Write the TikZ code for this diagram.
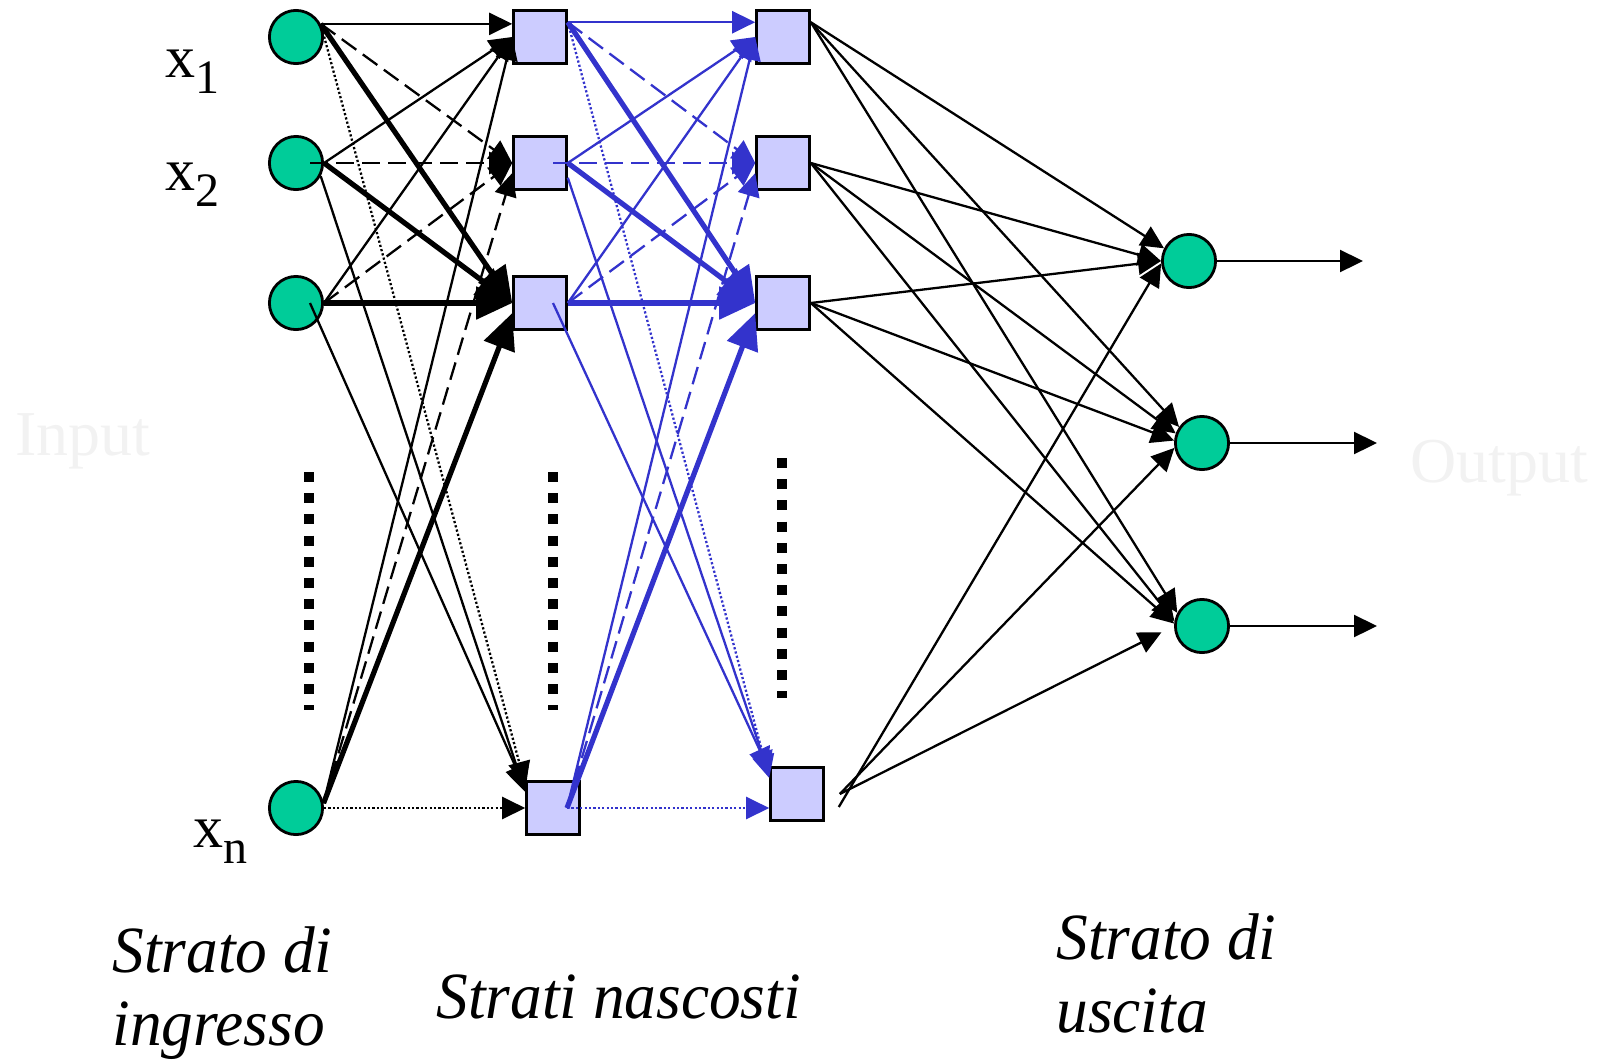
\documentclass[tikz,border=0pt]{standalone}
\usepackage{fontspec}
\setmainfont{Liberation Serif}
\newfontfamily\lblfont[FakeStretch=0.96]{Liberation Serif}
\usetikzlibrary{arrows.meta}
\definecolor{neuron}{RGB}{0,204,153}
\definecolor{unit}{RGB}{204,204,255}
\definecolor{wire}{RGB}{51,51,204}
\definecolor{ghost}{RGB}{242,242,242}
\begin{document}
\begin{tikzpicture}[x=0.5pt,y=-0.5pt]
        \tikzstyle{every node}+=[inner sep=0pt]
        \tikzstyle{neu}=[circle,draw=black,fill=neuron,line width=1.4pt,minimum size=26.6pt]
        \tikzstyle{hid}=[rectangle,draw=black,fill=unit,line width=1.4pt,minimum size=26.4pt]
        \tikzstyle{lnk}=[line width=1.15pt,-{Triangle[length=11.5pt,width=11pt]}]
        \tikzstyle{lnkdash}=[lnk,dash pattern=on 9pt off 4pt]
        \tikzstyle{lnkdot}=[lnk,dash pattern=on 1.1pt off 1.1pt]
        \tikzstyle{lnkbold}=[line width=2.6pt,-{Triangle[length=18pt,width=16pt]}]
        \tikzstyle{dots}=[line width=5.3pt,dash pattern=on 5pt off 5.6pt]
        \tikzstyle{lbl}=[font=\lblfont\fontsize{33}{36.5}\selectfont\itshape,align=left,anchor=base west]
        \tikzstyle{sym}=[font=\fontsize{30}{30}\selectfont,anchor=base west]
        \useasboundingbox (0,0) rectangle (1597,1061);
        \node [ghost,font=\fontsize{32}{32}\selectfont,anchor=base west] (tin) at (15,455) {Input};
        \node [ghost,font=\fontsize{32}{32}\selectfont,anchor=base west] (tout) at (1410,482) {Output};
        \node [neu] (x1) at (296,37) {};
        \node [neu] (x2) at (296,163) {};
        \node [neu] (x3) at (296,303) {};
        \node [neu] (xn) at (296,808) {};
        \node [hid] (h1) at (540,37) {};
        \node [hid] (h2) at (540,163) {};
        \node [hid] (h3) at (540,303) {};
        \node [hid] (hn) at (553,808) {};
        \node [hid] (g1) at (783,37) {};
        \node [hid] (g2) at (783,163) {};
        \node [hid] (g3) at (783,303) {};
        \node [hid] (gn) at (797,794) {};
        \node [neu] (o1) at (1189,261) {};
        \node [neu] (o2) at (1202,443) {};
        \node [neu] (o3) at (1202,626) {};
        \coordinate (gs1) at ([xshift=7pt,yshift=-6.5pt]gn.east);
        \coordinate (gs2) at ([xshift=7.5pt]gn.east);
        \coordinate (e1) at (1363,261);
        \coordinate (e2) at (1377,443);
        \coordinate (e3) at (1377,626);
        \node [sym] (lx1) at (165,77) {x\raisebox{-8pt}{\fontsize{24}{24}\selectfont 1}};
        \node [sym] (lx2) at (165,190) {x\raisebox{-8pt}{\fontsize{24}{24}\selectfont 2}};
        \node [sym] (lxn) at (193,847) {x\raisebox{-8pt}{\fontsize{24}{24}\selectfont n}};
        \draw [dots] (309,472) -- (309,710);
        \draw [dots] (553,472) -- (553,710);
        \draw [dots] (782,458) -- (782,698);
        \draw [lnk] (x1.28) -- (h1.west |- x1.28);
        \draw [lnkdash] (x1.28) -- (h2.west);
        \draw [lnkbold] (x1.28) -- (h3.west);
        \draw [lnkdot] (x1.28) -- (hn.140);
        \draw [lnk] (x2.east) -- (h1.west);
        \draw [lnkdash] ([xshift=7pt]x2.center) -- (h2.west);
        \draw [lnkbold] (x2.east) -- (h3.west);
        \draw [lnk] (x2.-28) -- (hn.150);
        \draw [lnk] (x3.east) -- (h1.west);
        \draw [lnkdash] (x3.east) -- (h2.west);
        \draw [lnkbold] (x3.east) -- (h3.west);
        \draw [lnk] ([xshift=7pt]x3.center) -- (hn.145);
        \draw [lnk] (xn.10) -- (h1.west);
        \draw [lnkdash] (xn.10) -- (h2.200);
        \draw [lnkbold] (xn.10) -- (h3.200);
        \draw [lnkdot] (xn.east) -- (hn.west);
        \draw [lnk,wire] (h1.28) -- (g1.west |- h1.28);
        \draw [lnkdash,wire] (h1.28) -- (g2.west);
        \draw [lnkbold,wire] (h1.28) -- (g3.west);
        \draw [lnkdot,wire] (h1.28) -- (gn.150);
        \draw [lnk,wire] (h2.east) -- (g1.west);
        \draw [lnkdash,wire] ([xshift=6.5pt]h2.center) -- (g2.west);
        \draw [lnkbold,wire] (h2.east) -- (g3.west);
        \draw [lnk,wire] (h2.-28) -- (gn.145);
        \draw [lnk,wire] (h3.east) -- (g1.west);
        \draw [lnkdash,wire] (h3.east) -- (g2.west);
        \draw [lnkbold,wire] (h3.east) -- (g3.west);
        \draw [lnk,wire] ([xshift=6.5pt]h3.center) -- (gn.140);
        \draw [lnk,wire] ([xshift=7pt]hn.center) -- (g1.west);
        \draw [lnkdash,wire] ([xshift=7pt]hn.center) -- (g2.200);
        \draw [lnkbold,wire] ([xshift=7pt]hn.center) -- (g3.200);
        \draw [lnkdot,wire] ([xshift=7pt]hn.center) -- (gn.west |- hn);
        \draw [lnk] (g1.28) -- (o1.153);
        \draw [lnk] (g1.28) -- (o2.145);
        \draw [lnk] (g1.28) -- (o3.152);
        \draw [lnk] (g2.east) -- (o1.west);
        \draw [lnk] (g2.east) -- (o2.160);
        \draw [lnk] (g2.east) -- (o3.170);
        \draw [lnk] (g3.east) -- (o1.west);
        \draw [lnk] (g3.east) -- (o2.175);
        \draw [lnk] (g3.east) -- (o3.175);
        \draw [lnk] (gs1) -- (o1.185);
        \draw [lnk] (gs2) -- (o2.190);
        \draw [lnk,shorten >=7pt] (gs2) -- (o3.west);
        \draw [lnk] (o1.east) -- (e1);
        \draw [lnk] (o2.east) -- (e2);
        \draw [lnk] (o3.east) -- (e3);
        \node [lbl] (tin2) at (112,1045) {Strato di\\ingresso};
        \node [lbl] (thid) at (436,1018) {Strati nascosti};
        \node [lbl] (tout2) at (1056,1032) {Strato di\\uscita};
\end{tikzpicture}
\end{document}
